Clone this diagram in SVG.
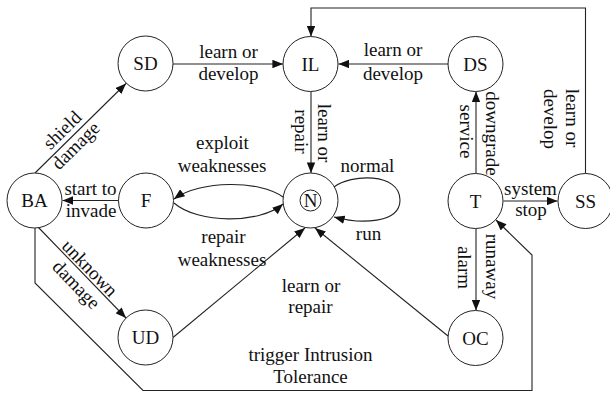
<svg xmlns="http://www.w3.org/2000/svg" width="610" height="394" viewBox="0 0 610 394">
<style>
.n{fill:#fff;stroke:#222;stroke-width:1}
.t{font-family:"Liberation Serif","Times New Roman",serif;font-size:19px;fill:#111;text-anchor:middle}
.e{fill:none;stroke:#222;stroke-width:1.1}
.a{marker-end:url(#ah)}
</style>
<defs>
<marker id="ah" viewBox="0 0 10 8" refX="10" refY="4" markerWidth="11" markerHeight="8.5" markerUnits="userSpaceOnUse" orient="auto">
<path d="M0,0 L10,4 L0,8 z" fill="#111"/>
</marker>
</defs>
<rect width="610" height="394" fill="#fff"/>
<g id="connectors">
<line class="e a" x1="173" y1="64" x2="283" y2="64"/>
<line class="e a" x1="448" y1="64" x2="338.5" y2="64"/>
<line class="e a" x1="311" y1="91.5" x2="311" y2="173"/>
<path class="e a" d="M585.5,173.5 V8 H311 V36.5"/>
<line class="e a" x1="476" y1="173.5" x2="476" y2="91.5"/>
<line class="e a" x1="503.5" y1="201" x2="557.5" y2="201"/>
<line class="e a" x1="476" y1="228.5" x2="476" y2="310.5"/>
<line class="e a" x1="118.5" y1="200.5" x2="62.5" y2="200.5"/>
<line class="e a" x1="35" y1="173" x2="126" y2="83.5"/>
<line class="e a" x1="38" y1="227" x2="126" y2="318"/>
<path class="e a" d="M35,228 V283 L143,390.5 H532 V255 L496,220"/>
<line class="e a" x1="173" y1="337.5" x2="305" y2="228"/>
<line class="e a" x1="448" y1="336" x2="315" y2="228"/>
<path class="e a" d="M283,197 C260,180 200,180 174,199"/>
<path class="e a" d="M174,203 C198,224 260,224 283,204"/>
<path class="e a" d="M334,187 C350,174 400,172 400,200 C400,224 360,224 334,217"/>
</g>
<g id="edge-labels">
<text class="t" x="228.5" y="57.5">learn or</text>
<text class="t" x="228.5" y="80">develop</text>
<text class="t" x="393" y="55.5">learn or</text>
<text class="t" x="393" y="79.5">develop</text>
<text class="t" x="222.5" y="149">exploit</text>
<text class="t" x="222" y="172">weaknesses</text>
<text class="t" x="223.5" y="243">repair</text>
<text class="t" x="222" y="266">weaknesses</text>
<text class="t" x="90.5" y="195">start to</text>
<text class="t" x="91" y="217">invade</text>
<text class="t" x="367.5" y="172">normal</text>
<text class="t" x="368.5" y="240">run</text>
<text class="t" x="530.5" y="195">system</text>
<text class="t" x="531" y="215.5">stop</text>
<text class="t" x="311" y="291.5">learn or</text>
<text class="t" x="310.5" y="313">repair</text>
<text class="t" x="310.5" y="360.5">trigger Intrusion</text>
<text class="t" x="310.5" y="383">Tolerance</text>
<text class="t" transform="translate(318,133) rotate(90)">learn or</text>
<text class="t" transform="translate(294.5,131.5) rotate(90)">repair</text>
<text class="t" transform="translate(485.5,133.5) rotate(90)">downgrade</text>
<text class="t" transform="translate(459.5,131.5) rotate(90)">service</text>
<text class="t" transform="translate(566,118) rotate(90)">learn or</text>
<text class="t" transform="translate(544,119) rotate(90)">develop</text>
<text class="t" transform="translate(486,266.5) rotate(90)">runaway</text>
<text class="t" transform="translate(458,267.5) rotate(90)">alarm</text>
<text class="t" transform="translate(66.6,134.6) rotate(-44.7)">shield</text>
<text class="t" transform="translate(80,150) rotate(-44.7)">damage</text>
<text class="t" transform="translate(85.3,272.5) rotate(46)">unknown</text>
<text class="t" transform="translate(71.8,289.1) rotate(46)">damage</text>
</g>
<g id="SD"><circle class="n" cx="145.5" cy="63.5" r="27.5"/><text class="t" x="145.5" y="70">SD</text></g>
<g id="IL"><circle class="n" cx="310.5" cy="64" r="27.5"/><text class="t" x="310.5" y="70.5">IL</text></g>
<g id="DS"><circle class="n" cx="475.5" cy="64" r="27.5"/><text class="t" x="475.5" y="70.5">DS</text></g>
<g id="BA"><circle class="n" cx="34.5" cy="200.5" r="27.5"/><text class="t" x="34.5" y="207">BA</text></g>
<g id="F"><circle class="n" cx="146" cy="200.5" r="27.5"/><text class="t" x="146" y="207">F</text></g>
<g id="N"><circle class="n" cx="310.5" cy="200.5" r="27.5"/><circle class="n" cx="310.5" cy="200.5" r="10.5"/><text class="t" x="310.5" y="207">N</text></g>
<g id="T"><circle class="n" cx="475.5" cy="201" r="27.5"/><text class="t" x="475.5" y="207.5">T</text></g>
<g id="SS"><circle class="n" cx="585.5" cy="201" r="27.5"/><text class="t" x="585.5" y="207.5">SS</text></g>
<g id="UD"><circle class="n" cx="145.5" cy="337.5" r="27.5"/><text class="t" x="145.5" y="344">UD</text></g>
<g id="OC"><circle class="n" cx="475.5" cy="338" r="27.5"/><text class="t" x="475.5" y="344.5">OC</text></g>
</svg>
